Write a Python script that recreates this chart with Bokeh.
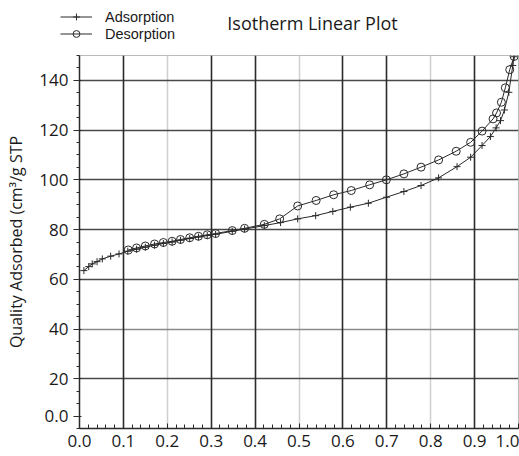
from bokeh.plotting import figure
from bokeh.layouts import column
from bokeh.models import (FixedTicker, Grid, Legend, LegendItem, Label, Range1d)
from bokeh.embed import file_html
from bokeh.resources import INLINE

# ---- data ----
ads_x = [0.010, 0.021, 0.029, 0.040, 0.052, 0.071, 0.090, 0.110, 0.130, 0.150,
         0.171, 0.191, 0.211, 0.230, 0.251, 0.271, 0.291, 0.310, 0.348, 0.376,
         0.421, 0.458, 0.497, 0.538, 0.577, 0.617, 0.658, 0.699, 0.739, 0.778,
         0.818, 0.860, 0.891, 0.917, 0.936, 0.949, 0.959, 0.968, 0.978, 0.987,
         0.990]
ads_y = [63.5, 65.1, 66.2, 67.1, 68.2, 69.3, 70.2, 71.3, 72.1, 72.9,
         73.7, 74.4, 75.0, 75.7, 76.4, 77.0, 77.6, 78.1, 79.3, 80.2,
         81.6, 82.8, 84.3, 85.6, 87.3, 89.0, 90.6, 93.0, 95.3, 97.7,
         100.8, 105.3, 109.1, 113.8, 117.4, 120.9, 123.8, 128.1, 135.2, 146.0,
         149.5]

des_x = [0.111, 0.130, 0.150, 0.171, 0.191, 0.211, 0.230, 0.251, 0.271, 0.291,
         0.310, 0.348, 0.376, 0.421, 0.456, 0.497, 0.539, 0.579, 0.619, 0.661,
         0.699, 0.739, 0.778, 0.818, 0.858, 0.891, 0.917, 0.942, 0.950, 0.961,
         0.970, 0.980, 0.990]
des_y = [71.8, 72.6, 73.4, 74.2, 74.8, 75.3, 76.0, 76.7, 77.3, 77.9,
         78.4, 79.6, 80.5, 82.1, 84.3, 89.5, 91.7, 94.0, 95.7, 98.0,
         100.0, 102.4, 105.1, 108.0, 111.5, 115.1, 119.6, 124.5, 126.9, 131.2,
         137.0, 144.3, 149.6]

x_ticks = [0.0, 0.1, 0.2, 0.3, 0.4, 0.5, 0.6, 0.7, 0.8, 0.9, 1.0]
x_labels = ["0.0", "0.1", "0.2", "0.3", "0.4", "0.5", "0.6", "0.7", "0.8", "0.9", "1.0"]
# the reference prints its lowest label "0.0" a little above the corner
y_ticks = [5, 20, 40, 60, 80, 100, 120, 140]
y_labels = ["0.0", "20", "40", "60", "80", "100", "120", "140"]

title_text = "Isotherm Linear Plot"
y_title = "Quality Adsorbed (cm³/g STP"
series_names = ["Adsorption", "Desorption"]

FONT = "Open Sans"
INK = "#2a2a2a"
HEAD_H = 50

# ---------- header: legend + title ----------
h = figure(width=519, height=HEAD_H, output_backend="svg", toolbar_location=None,
           x_range=Range1d(0, 519), y_range=Range1d(HEAD_H, 0),
           x_axis_type=None, y_axis_type=None, min_border=0)
h.frame_align = False
h.outline_line_color = None
h.background_fill_color = "white"
h.border_fill_color = "white"
h.xgrid.visible = False
h.ygrid.visible = False

# legend swatches: same series, drawn outside the header's visible range
hla = h.line(ads_x, ads_y, line_color=INK, line_width=1)
hsa = h.scatter(ads_x, ads_y, marker="cross", size=8, line_color=INK, line_width=1)
hld = h.line(des_x, des_y, line_color=INK, line_width=1)
hsd = h.scatter(des_x, des_y, marker="circle", size=9, line_color=INK, line_width=1,
                fill_alpha=0)

legend = Legend(items=[LegendItem(label=series_names[0], renderers=[hla, hsa]),
                       LegendItem(label=series_names[1], renderers=[hld, hsd])],
                location=(60, 8), orientation="vertical")
legend.margin = 0
legend.padding = 0
legend.spacing = 0
legend.glyph_width = 32
legend.glyph_height = 17
legend.label_standoff = 13
legend.label_text_font = "Liberation Sans"
legend.label_text_font_size = "14.5px"
legend.label_text_color = "#1a1a1a"
legend.label_height = 17
legend.border_line_alpha = 0
legend.background_fill_alpha = 0
h.add_layout(legend, "center")

h.add_layout(Label(x=312, y=22, text=title_text, text_font=FONT,
                   text_font_size="18px", text_color="#1a1a1a",
                   text_align="center", text_baseline="middle"))

# ---------- main plot ----------
p = figure(width=519, height=456 - HEAD_H, output_backend="svg", toolbar_location=None,
           x_range=Range1d(0, 1.0), y_range=Range1d(0, 150),
           min_border_left=79, min_border_right=1, min_border_top=55 - HEAD_H,
           min_border_bottom=28)
p.frame_align = False
p.background_fill_color = "white"
p.border_fill_color = "white"
p.outline_line_color = "#bbbbbb"
p.outline_line_width = 1

# grids
p.xgrid.visible = False
p.ygrid.visible = False
g_dark_x = Grid(dimension=0, ticker=FixedTicker(ticks=[0.1, 0.3, 0.4, 0.6, 0.7, 0.9]),
                grid_line_color="#2a2a2a", grid_line_width=1.6)
g_light_x = Grid(dimension=0, ticker=FixedTicker(ticks=[0.2, 0.5, 0.8]),
                 grid_line_color="#cfcfcf", grid_line_width=1.5)
g_dark_y = Grid(dimension=1, ticker=FixedTicker(ticks=[20, 60, 80, 100, 120, 140]),
                grid_line_color="#4a4a4a", grid_line_width=1.6)
g_mid_y = Grid(dimension=1, ticker=FixedTicker(ticks=[40]),
               grid_line_color="#8a8a8a", grid_line_width=1.5)
for g in (g_light_x, g_mid_y, g_dark_y, g_dark_x):
    p.add_layout(g)

# axes
xa = p.xaxis[0]
xa.ticker = FixedTicker(ticks=x_ticks,
                        minor_ticks=[i / 50 for i in range(51)])
xa.major_label_overrides = {t: l for t, l in zip(x_ticks, x_labels)}
xa.major_tick_in = 5
xa.major_tick_out = 0
xa.minor_tick_in = 4
xa.minor_tick_out = 0
xa.major_label_standoff = 6
xa.major_label_text_font = FONT
xa.major_label_text_font_size = "17px"
xa.major_label_text_color = "#1a1a1a"
xa.axis_line_color = INK
xa.axis_line_width = 1.5
xa.major_tick_line_color = INK
xa.minor_tick_line_color = INK

ya = p.yaxis[0]
ya.ticker = FixedTicker(ticks=y_ticks, minor_ticks=list(range(0, 151, 5)))
ya.major_label_overrides = {t: l for t, l in zip(y_ticks, y_labels)}
ya.major_tick_in = 2
ya.major_tick_out = 6
ya.minor_tick_in = 0
ya.minor_tick_out = 3
ya.major_label_standoff = 5
ya.major_label_text_font = FONT
ya.major_label_text_font_size = "17px"
ya.major_label_text_color = "#1a1a1a"
ya.axis_label = y_title
ya.axis_label_text_font = FONT
ya.axis_label_text_font_size = "16px"
ya.axis_label_text_font_style = "normal"
ya.axis_label_text_color = "#1a1a1a"
ya.axis_label_standoff = 9
ya.axis_line_color = INK
ya.axis_line_width = 1.5
ya.major_tick_line_color = INK
ya.minor_tick_line_color = INK

# series
p.line(ads_x, ads_y, line_color=INK, line_width=1)
p.scatter(ads_x, ads_y, marker="cross", size=7, line_color=INK, line_width=1)
p.line(des_x, des_y, line_color=INK, line_width=1)
p.scatter(des_x, des_y, marker="circle", size=8, line_color=INK, line_width=1,
          fill_alpha=0)

layout = column(h, p, spacing=0)
open("out.html", "w").write(file_html(layout, INLINE))
